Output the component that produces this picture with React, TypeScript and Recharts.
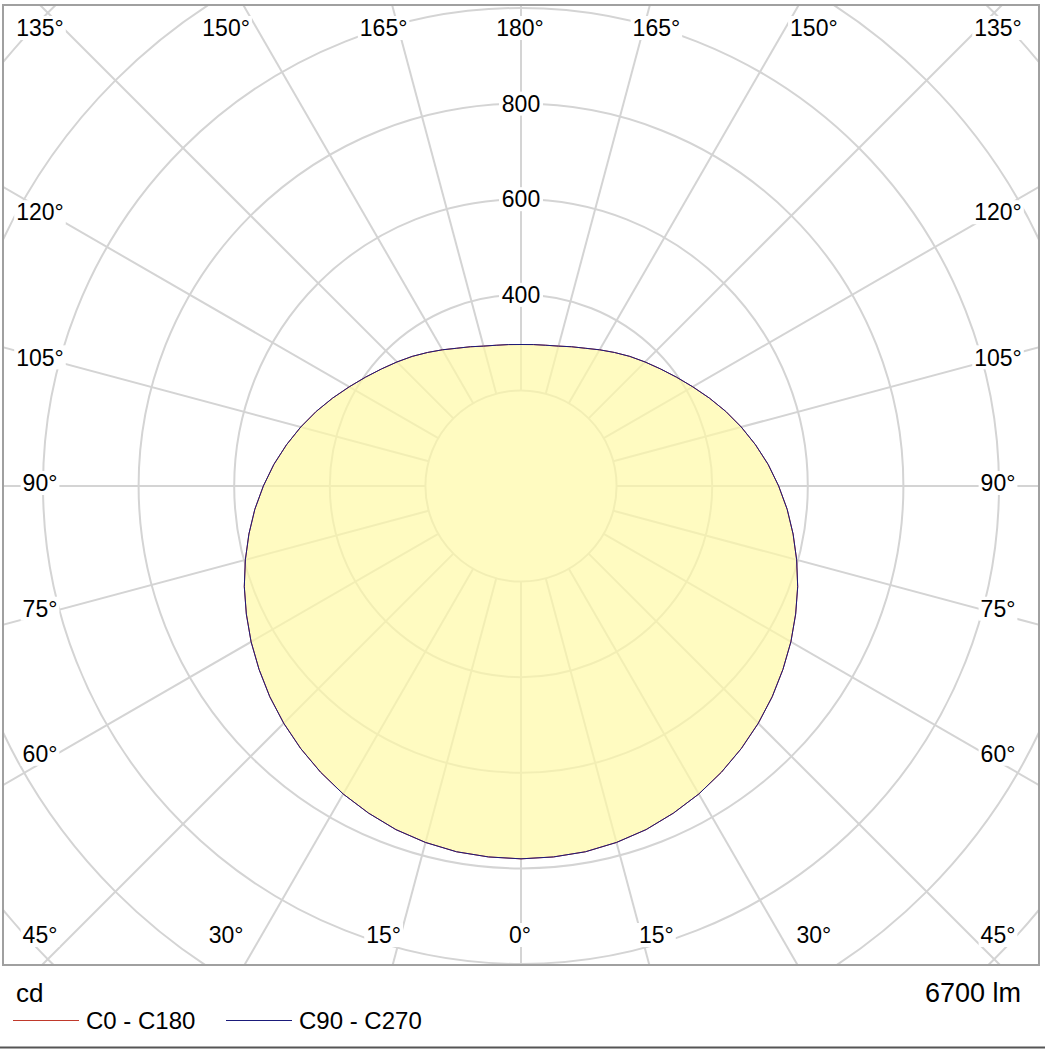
import React from "react";
import { PolarAngleAxis, PolarGrid, PolarRadiusAxis, Radar, RadarChart } from "recharts";

// luminous intensity (cd) per gamma angle
const gammaDeg = [
  0, 5, 10, 15, 20, 25, 30, 35, 40, 45, 50, 55, 60, 65, 70, 75, 80, 85, 90,
  95, 100, 105, 110, 115, 120, 125, 130, 135, 140, 145, 150, 155, 160, 165, 170, 175, 180,
];
const c0c180 = [
  780, 779, 777, 772, 765, 755, 744, 731, 717, 702, 686, 669, 652, 634, 616, 597, 578, 559, 539,
  519, 498, 477, 456, 435, 415, 397, 381, 367, 354, 341, 329, 318, 310, 303, 299, 297, 296,
];
const c90c270 = [
  780, 779, 777, 772, 765, 755, 744, 731, 717, 702, 686, 669, 652, 634, 616, 597, 578, 559, 539,
  519, 498, 477, 456, 435, 415, 397, 381, 367, 354, 341, 329, 318, 310, 303, 299, 297, 296,
];

const ringTicks = [200, 400, 600, 800, 1000, 1200, 1400, 1600];
const ringLabels = [400, 600, 800];
const spokeDeg = [0, 15, 30, 45, 60, 75, 90, 105, 120, 135, 150, 165, 180, 195, 210, 225, 240, 255, 270, 285, 300, 315, 330, 345];
const angleLabelDeg = [0, 15, 30, 45, 60, 75, 90, 105, 120, 135, 150, 165, 180];

const seriesNames = ["C0 - C180", "C90 - C270"];
const seriesColors = ["#c0392b", "#1a1a7a"];

// right half = C0 / C90 side, left half mirrored (C180 / C270)
const rows = [
  ...gammaDeg.map((g, i) => ({ theta: g, c0: c0c180[i], c90: c90c270[i] })),
  ...gammaDeg
    .map((g, i) => ({ theta: 360 - g, c0: c0c180[i], c90: c90c270[i] }))
    .filter((r) => r.theta > 180 && r.theta < 360)
    .reverse(),
];

const FONT = '"Liberation Sans", Arial, sans-serif';
const CX = 521;
const CY = 485.5;
const PX_PER_CD = 95.6 / 200;
const R_MAX = 1600;
const OUTER = R_MAX * PX_PER_CD;
const SIZE = 1560;
const FRAME = { x: 3, y: 5, w: 1036, h: 960 };
const GRID = "#d4d4d4";

const labelSpot = (g: number, side: number) => {
  if (g === 45 || g === 135) return { x: side < 0 ? 40 : 998, y: g === 135 ? 28 : 935 };
  if (g <= 30 || g >= 150) {
    const a = g <= 30 ? g : 180 - g;
    return { x: 520 + side * 509 * Math.tan((a * Math.PI) / 180), y: g <= 30 ? 935 : 28 };
  }
  return { x: side < 0 ? 40 : 998, y: 483 + 469 * Math.tan(((90 - g) * Math.PI) / 180) };
};

const RingLabel = (props: any) => {
  const { x, y, payload } = props;
  if (!ringLabels.includes(payload.value)) return <g />;
  return (
    <g>
      <rect x={x - 22} y={y - 12} width={44} height={24} fill="#fff" />
      <text x={x} y={y + 8} textAnchor="middle" fontSize={23} fontFamily={FONT} fill="#000">
        {payload.value}
      </text>
    </g>
  );
};

const AngleLabels = () => {
  const items: { key: string; text: string; x: number; y: number }[] = [];
  angleLabelDeg.forEach((g) => {
    const sides = g === 0 || g === 180 ? [0] : [-1, 1];
    sides.forEach((s) => {
      const p = labelSpot(g, s);
      items.push({ key: `${g}_${s}`, text: `${g}°`, x: p.x, y: p.y });
    });
  });
  return (
    <>
      {items.map((it) => {
        const w = (it.text.length - 1) * 0.556 * 23 + 0.4 * 23 + 4;
        return (
          <g key={it.key}>
            <rect x={it.x - w / 2} y={it.y - 12} width={w} height={24} fill="#fff" />
            <text x={it.x} y={it.y + 8.2} textAnchor="middle" fontSize={23} fontFamily={FONT} fill="#000">
              {it.text}
            </text>
          </g>
        );
      })}
    </>
  );
};

const App = () => {
  const chartPos: React.CSSProperties = {
    position: "absolute",
    left: CX - FRAME.x - SIZE / 2,
    top: CY - FRAME.y - SIZE / 2,
  };
  return (
    <div style={{ position: "absolute", left: 0, top: 0, width: 1045, height: 1049, background: "#fff", overflow: "hidden" }}>
      <div style={{ position: "absolute", left: FRAME.x, top: FRAME.y, width: FRAME.w, height: FRAME.h, overflow: "hidden" }}>
        {/* spokes start at the 200 cd ring */}
        <div style={chartPos}>
          <RadarChart width={SIZE} height={SIZE} data={rows} innerRadius={PX_PER_CD * 200} outerRadius={OUTER}
            startAngle={-90} endAngle={270} margin={{ top: 0, right: 0, bottom: 0, left: 0 }}>
            <PolarGrid gridType="circle" polarRadius={[]} polarAngles={spokeDeg} stroke={GRID} strokeWidth={2} />
          </RadarChart>
        </div>
        <div style={chartPos}>
          <RadarChart width={SIZE} height={SIZE} data={rows} outerRadius={OUTER}
            startAngle={-90} endAngle={270} margin={{ top: 0, right: 0, bottom: 0, left: 0 }}>
            <PolarGrid gridType="circle" radialLines={false} stroke={GRID} strokeWidth={2} />
            <PolarAngleAxis dataKey="theta" type="number" domain={[0, 360]} tick={false} axisLine={false} tickLine={false} />
            <Radar dataKey="c0" name={seriesNames[0]} stroke={seriesColors[0]} strokeWidth={1}
              fill="#fff9a6" fillOpacity={0.7} dot={false} isAnimationActive={false} />
            <Radar dataKey="c90" name={seriesNames[1]} stroke={seriesColors[1]} strokeWidth={1}
              fill="none" dot={false} isAnimationActive={false} />
            <PolarRadiusAxis angle={90} type="number" domain={[0, R_MAX]} ticks={ringTicks}
              axisLine={false} tickLine={false} tick={RingLabel} />
          </RadarChart>
        </div>
      </div>
      <svg width={1045} height={1049} style={{ position: "absolute", left: 0, top: 0 }}>
        <AngleLabels />
        <rect x={FRAME.x} y={FRAME.y} width={FRAME.w} height={FRAME.h} fill="none" stroke="#a0a0a0" strokeWidth={2} />
        <text x={16} y={1001.5} fontSize={26} fontFamily={FONT} fill="#000">cd</text>
        <text x={1021} y={1001.5} fontSize={27} fontFamily={FONT} fill="#000" textAnchor="end">6700 lm</text>
        {seriesNames.map((n, i) => {
          const x0 = i === 0 ? 13 : 226;
          return (
            <g key={n}>
              <line x1={x0} x2={x0 + 66} y1={1020.5} y2={1020.5} stroke={seriesColors[i]} strokeWidth={1} />
              <text x={x0 + 73} y={1029} fontSize={24} fontFamily={FONT} fill="#000">{n}</text>
            </g>
          );
        })}
        <line x1={0} x2={1045} y1={1047.5} y2={1047.5} stroke="#555" strokeWidth={2} />
      </svg>
    </div>
  );
};

export default App;
